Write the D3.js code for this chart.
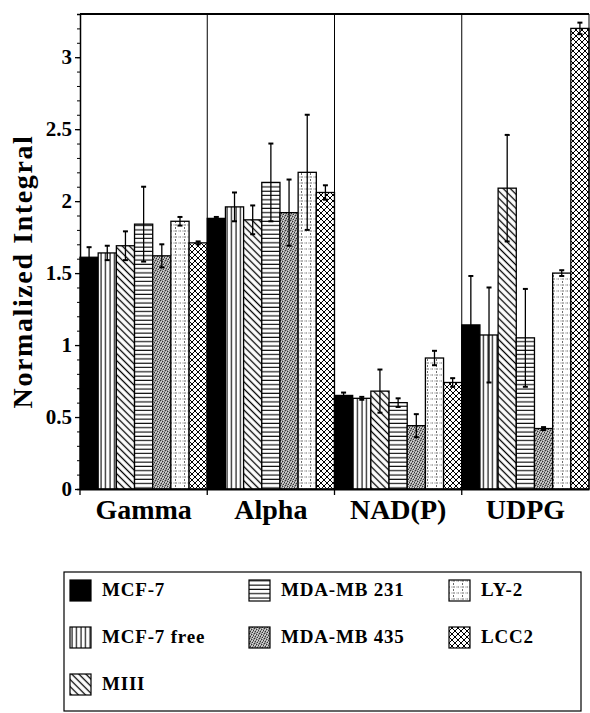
<!DOCTYPE html>
<html>
<head>
<meta charset="utf-8">
<script src="https://cdn.jsdelivr.net/npm/d3@7"></script>
<style>
  body { margin: 0; background: #fff; }
  svg { display: block; }
  svg text { font-family: "Liberation Serif", "Times New Roman", Tinos, "Nimbus Roman", Times, serif; font-weight: bold; }
</style>
</head>
<body>
<div id="chart"></div>
<script>
// data
const groups = ["Gamma", "Alpha", "NAD(P)", "UDPG"];
const seriesNames = ["MCF-7", "MCF-7 free", "MIII", "MDA-MB 231", "MDA-MB 435", "LY-2", "LCC2"];
const patternIds = ["solid", "vert", "diag", "horiz", "stipple", "dotgrid", "cross"];

const mcf7 = [1.61, 1.88, 0.65, 1.14];
const mcf7Err = [0.07, 0.01, 0.02, 0.34];
const mcf7free = [1.64, 1.96, 0.63, 1.07];
const mcf7freeErr = [0.05, 0.10, 0.01, 0.33];
const miii = [1.69, 1.87, 0.68, 2.09];
const miiiErr = [0.10, 0.10, 0.15, 0.37];
const mda231 = [1.84, 2.13, 0.60, 1.05];
const mda231Err = [0.26, 0.27, 0.03, 0.34];
const mda435 = [1.62, 1.92, 0.44, 0.42];
const mda435Err = [0.08, 0.23, 0.08, 0.01];
const ly2 = [1.86, 2.20, 0.91, 1.50];
const ly2Err = [0.03, 0.40, 0.05, 0.02];
const lcc2 = [1.71, 2.06, 0.74, 3.20];
const lcc2Err = [0.01, 0.05, 0.03, 0.04];

const yTicks = [0, 0.5, 1, 1.5, 2, 2.5, 3];

const values = [mcf7, mcf7free, miii, mda231, mda435, ly2, lcc2];
const errors = [mcf7Err, mcf7freeErr, miiiErr, mda231Err, mda435Err, ly2Err, lcc2Err];

let W = 590, H = 713;
let margin = {top: 14, right: 1, bottom: 224, left: 80};
let x0 = d3.scaleBand().domain(groups).range([margin.left, W - margin.right]).padding(0);
let x1 = d3.scaleBand().domain(seriesNames).range([0, x0.bandwidth()]).padding(0);
let y = d3.scaleLinear().domain([0, 3.3]).range([H - margin.bottom, margin.top]);

let svg = d3.select("#chart").append("svg")
  .attr("width", W)
  .attr("height", H);

// fill patterns
let defs = svg.append("defs");

let p = defs.append("pattern").attr("id", "vert").attr("patternUnits", "userSpaceOnUse")
  .attr("width", 4.5).attr("height", 4.5);
p.append("rect").attr("width", 4.5).attr("height", 4.5).attr("fill", "#fff");
p.append("line").attr("x1", 2).attr("x2", 2).attr("y1", 0).attr("y2", 4.5).attr("stroke", "#000").attr("stroke-width", 1.1);

p = defs.append("pattern").attr("id", "horiz").attr("patternUnits", "userSpaceOnUse")
  .attr("width", 4.5).attr("height", 4.3);
p.append("rect").attr("width", 4.5).attr("height", 4.3).attr("fill", "#fff");
p.append("line").attr("x1", 0).attr("x2", 4.5).attr("y1", 2).attr("y2", 2).attr("stroke", "#000").attr("stroke-width", 1.1);

p = defs.append("pattern").attr("id", "diag").attr("patternUnits", "userSpaceOnUse")
  .attr("width", 5).attr("height", 5).attr("patternTransform", "rotate(-45)");
p.append("rect").attr("width", 5).attr("height", 5).attr("fill", "#fff");
p.append("line").attr("x1", 2.5).attr("x2", 2.5).attr("y1", 0).attr("y2", 5).attr("stroke", "#000").attr("stroke-width", 1.3);

p = defs.append("pattern").attr("id", "cross").attr("patternUnits", "userSpaceOnUse")
  .attr("width", 6).attr("height", 6);
p.append("rect").attr("width", 6).attr("height", 6).attr("fill", "#fff");
p.append("path").attr("d", "M0,0L6,6M6,0L0,6").attr("stroke", "#000").attr("stroke-width", 1);

// grey stipple, light dots and dark dots on a mid grey
p = defs.append("pattern").attr("id", "stipple").attr("patternUnits", "userSpaceOnUse")
  .attr("width", 5).attr("height", 5);
p.append("rect").attr("width", 5).attr("height", 5).attr("fill", "#9a9a9a");
[[0, 0], [2, 1], [4, 2], [1, 3], [3, 4]].forEach(d => {
  p.append("rect").attr("x", d[0]).attr("y", d[1]).attr("width", 1).attr("height", 1).attr("fill", "#333");
});
[[1, 1], [3, 0], [0, 2], [2, 3], [4, 4], [3, 2]].forEach(d => {
  p.append("rect").attr("x", d[0]).attr("y", d[1]).attr("width", 1).attr("height", 1).attr("fill", "#d8d8d8");
});

p = defs.append("pattern").attr("id", "dotgrid").attr("patternUnits", "userSpaceOnUse")
  .attr("width", 9).attr("height", 6);
p.append("rect").attr("width", 9).attr("height", 6).attr("fill", "#fff");
p.append("line").attr("x1", 0).attr("x2", 9).attr("y1", 3).attr("y2", 3)
  .attr("stroke", "#444").attr("stroke-width", 0.8).attr("stroke-dasharray", "1,1.5");
p.append("line").attr("x1", 4.5).attr("x2", 4.5).attr("y1", 0).attr("y2", 6)
  .attr("stroke", "#444").attr("stroke-width", 0.8).attr("stroke-dasharray", "1,1.5");

function fillOf(i) {
  return patternIds[i] === "solid" ? "#000" : `url(#${patternIds[i]})`;
}

// bars
let rows = [];
groups.forEach((g, gi) => {
  seriesNames.forEach((s, si) => {
    rows.push({group: g, series: s, si: si, value: values[si][gi], err: errors[si][gi]});
  });
});

svg.append("g").selectAll("rect")
  .data(rows)
  .enter()
  .append("rect")
  .attr("x", d => x0(d.group) + x1(d.series))
  .attr("y", d => y(d.value))
  .attr("width", x1.bandwidth())
  .attr("height", d => y(0) - y(d.value))
  .attr("fill", d => fillOf(d.si))
  .attr("stroke", "#000")
  .attr("stroke-width", 1.3);

// error bars
let eb = svg.append("g").attr("stroke", "#000");
eb.selectAll("line.stem")
  .data(rows)
  .enter()
  .append("line")
  .attr("class", "stem")
  .attr("x1", d => x0(d.group) + x1(d.series) + x1.bandwidth() / 2)
  .attr("x2", d => x0(d.group) + x1(d.series) + x1.bandwidth() / 2)
  .attr("y1", d => y(d.value + d.err))
  .attr("y2", d => y(d.value - d.err))
  .attr("stroke-width", 1.3);
[1, -1].forEach(sign => {
  eb.selectAll("line.cap" + sign)
    .data(rows)
    .enter()
    .append("line")
    .attr("x1", d => x0(d.group) + x1(d.series) + x1.bandwidth() / 2 - 2.5)
    .attr("x2", d => x0(d.group) + x1(d.series) + x1.bandwidth() / 2 + 2.5)
    .attr("y1", d => y(d.value + sign * d.err))
    .attr("y2", d => y(d.value + sign * d.err))
    .attr("stroke-width", 2);
});

// group dividers and frame
svg.append("g").selectAll("line")
  .data(groups.slice(1))
  .enter()
  .append("line")
  .attr("x1", d => x0(d)).attr("x2", d => x0(d))
  .attr("y1", y(3.3)).attr("y2", y(0))
  .attr("stroke", "#000").attr("stroke-width", 1);

svg.append("line")
  .attr("x1", margin.left).attr("x2", W - margin.right)
  .attr("y1", y(3.3)).attr("y2", y(3.3))
  .attr("stroke", "#000").attr("stroke-width", 2);
svg.append("line")
  .attr("x1", W - margin.right).attr("x2", W - margin.right)
  .attr("y1", y(3.3)).attr("y2", y(0))
  .attr("stroke", "#000").attr("stroke-width", 1);

// y axis: minor ticks every 0.1, then labelled majors
let yAxis = svg.append("g")
  .attr("transform", `translate(${margin.left},0)`)
  .call(d3.axisLeft(y).tickValues(d3.range(0, 33).map(i => i / 10)).tickSize(3).tickFormat(""));
yAxis.select(".domain").attr("stroke-width", 1.5);
let yMajor = svg.append("g")
  .attr("transform", `translate(${margin.left},0)`)
  .call(d3.axisLeft(y).tickValues(yTicks).tickSize(5).tickPadding(3).tickFormat(d3.format("")));
yMajor.attr("font-family", null);
yMajor.select(".domain").remove();
yMajor.selectAll("text")
  .attr("font-size", 21)
  .attr("fill", "#000");
yMajor.selectAll("line").attr("stroke-width", 1.3);

// x axis
let xAxis = svg.append("g")
  .attr("transform", `translate(0,${y(0)})`)
  .call(d3.axisBottom(x0).tickSize(0).tickFormat(""));
xAxis.select(".domain").attr("stroke-width", 2);
svg.append("g").selectAll("line")
  .data(groups)
  .enter()
  .append("line")
  .attr("x1", d => x0(d)).attr("x2", d => x0(d))
  .attr("y1", y(0)).attr("y2", y(0) + 6)
  .attr("stroke", "#000").attr("stroke-width", 1.3);

svg.append("g").selectAll("text")
  .data(groups)
  .enter()
  .append("text")
  .attr("x", d => x0(d) + x0.bandwidth() / 2)
  .attr("y", 519)
  .attr("text-anchor", "middle")
  .attr("font-size", 28)
  .text(d => d);

// y label
svg.append("text")
  .attr("transform", `translate(32,${(y(0) + y(3.3)) / 2 + 20}) rotate(-90)`)
  .attr("text-anchor", "middle")
  .attr("font-size", 28)
  .attr("letter-spacing", 1.6)
  .text("Normalized Integral");

// legend
let legend = svg.append("g");
legend.append("rect")
  .attr("x", 64).attr("y", 572)
  .attr("width", 517).attr("height", 139)
  .attr("fill", "none").attr("stroke", "#000").attr("stroke-width", 1.2);

const legendCols = [70, 249, 449];
const legendRows = [596, 643, 690];
const legendPos = [[0, 0], [0, 1], [0, 2], [1, 0], [1, 1], [2, 0], [2, 1]];

let items = legend.selectAll("g.item")
  .data(seriesNames)
  .enter()
  .append("g")
  .attr("class", "item")
  .attr("transform", (d, i) => `translate(${legendCols[legendPos[i][0]]},${legendRows[legendPos[i][1]]})`);
items.append("rect")
  .attr("x", 0).attr("y", -16)
  .attr("width", 21).attr("height", 21)
  .attr("fill", (d, i) => fillOf(i))
  .attr("stroke", "#000").attr("stroke-width", 1.2);
items.append("text")
  .attr("x", 32).attr("y", 0)
  .attr("font-size", 19)
  .attr("letter-spacing", 0.8)
  .text(d => d);
</script>
</body>
</html>
